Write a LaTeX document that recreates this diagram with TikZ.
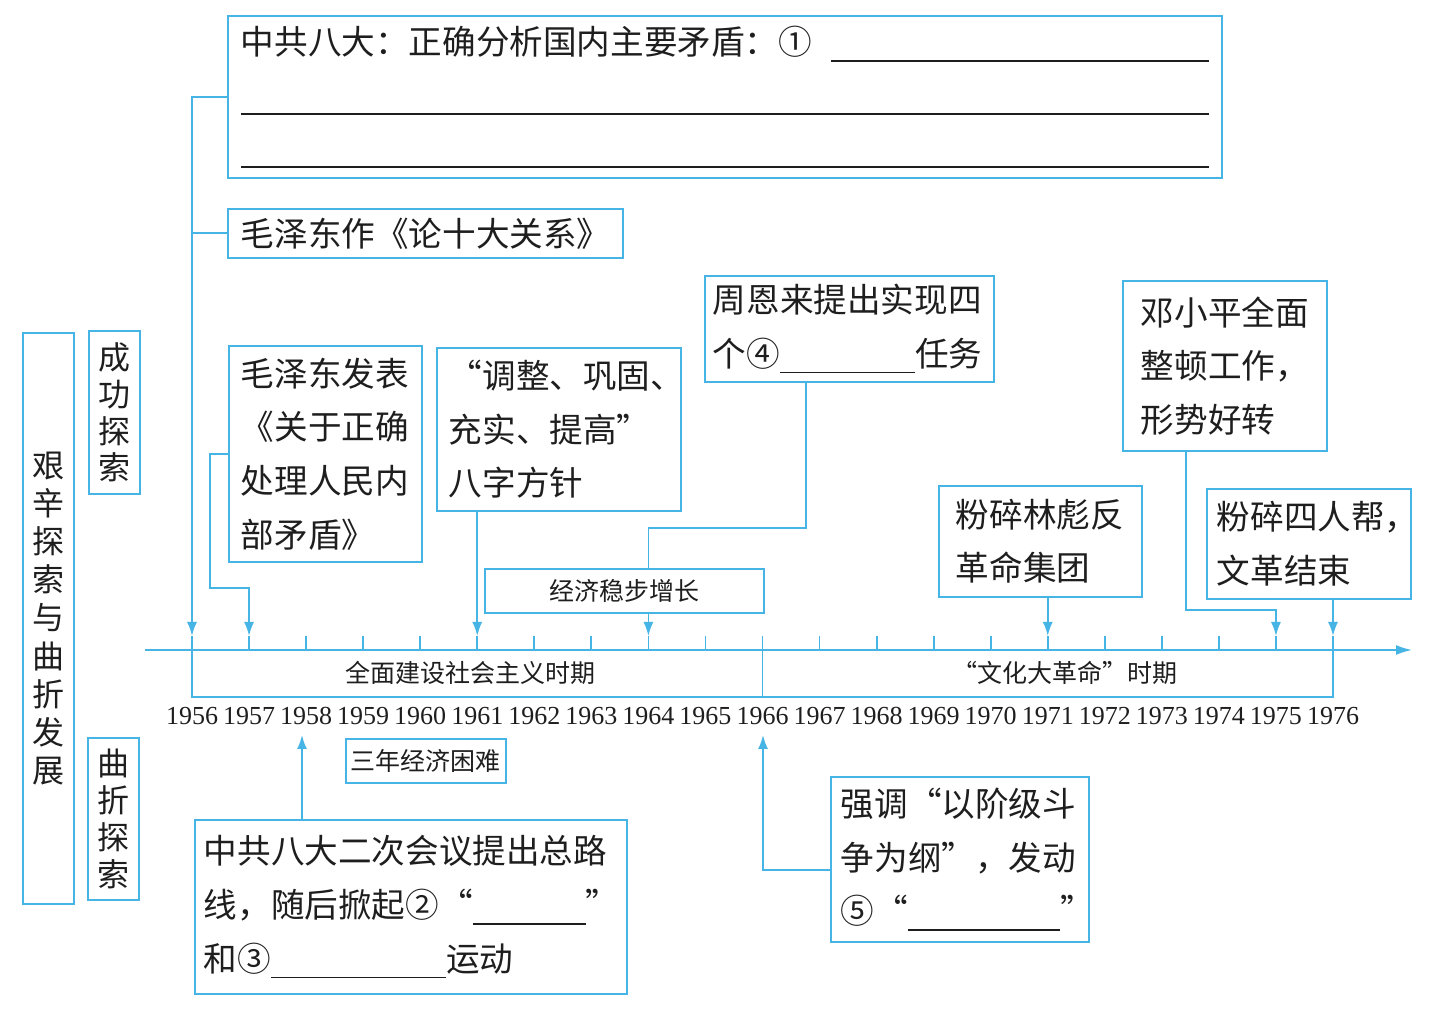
\documentclass[tikz,border=0pt]{standalone}
\usepackage{fontspec}
\setmainfont{Liberation Serif}
\newfontfamily\cjk{Noto Sans CJK SC}
\usetikzlibrary{arrows.meta,calc}
\definecolor{cl}{RGB}{70,180,228}
\definecolor{tx}{RGB}{30,30,30}
\tikzset{
  conn/.style={draw=cl, line width=0.9pt},
  arr/.style={conn, -{Latex[length=7pt,width=5pt]}},
  bx/.style={draw=cl, line width=0.9pt, anchor=north west, align=left, inner xsep=0pt, inner ysep=0pt, text=tx, font=\cjk\fontsize{16.8}{26.8}\selectfont},
  vbx/.style={draw=cl, line width=0.9pt, anchor=north west, align=center, inner sep=0pt, text=tx, font=\cjk\fontsize{16}{18.4}\selectfont},
  sbx/.style={draw=cl, line width=0.9pt, anchor=north west, align=center, inner sep=0pt, text=tx, font=\cjk\fontsize{12.5}{15}\selectfont},
  yrlab/.style={text=tx, font=\fontsize{13}{15}\selectfont, inner sep=0pt},
  per/.style={text=tx, font=\cjk\fontsize{12.5}{15}\selectfont, inner sep=0pt},
}
\newcommand{\blank}[1]{\rule[-3.5pt]{#1}{0.8pt}}
\begin{document}
\begin{tikzpicture}[x=0.5pt,y=-0.5pt]
\useasboundingbox (0,0) rectangle (1442,1010);

% left labels
\node[vbx, font=\cjk\fontsize{16}{19.1}\selectfont, minimum width=25.5pt, minimum height=285.5pt, text width=20pt] (L0) at (22,332) {艰\\辛\\探\\索\\与\\曲\\折\\发\\展};
\node[vbx, minimum width=25.5pt, minimum height=81.5pt, text width=20pt] (L1) at (88,330) {成\\功\\探\\索};
\node[vbx, minimum width=25.5pt, minimum height=81pt, text width=20pt] (L2) at (87,737) {曲\\折\\探\\索};

% boxes
\node[bx, font=\cjk\fontsize{16.8}{26.5}\selectfont, minimum width=497pt, minimum height=81pt, text width=484pt] (b1) at (227,15)
  {中共八大：正确分析国内主要矛盾：①\hfill\blank{189pt}\\\blank{484pt}\\\blank{484pt}};
\node[bx, minimum width=197.5pt, minimum height=24.5pt, text width=184.5pt] (b2) at (227,208) {毛泽东作《论十大关系》};
\node[bx, minimum width=96.5pt, minimum height=108pt, text width=84.5pt] (b6) at (228,345) {毛泽东发表\\《关于正确\\处理人民内\\部矛盾》};
\node[bx, minimum width=122pt, minimum height=81.5pt, text width=110pt] (b7) at (436,347) {“调整、巩固、\\充实、提高”\\八字方针};
\node[bx, minimum width=144.5pt, minimum height=53pt, text width=136.5pt] (b8) at (704,275) {周恩来提出实现四\\个④\blank{67.5pt}任务};
\node[sbx, minimum width=139.5pt, minimum height=22pt] (b9) at (484,568) {经济稳步增长};
\node[bx, minimum width=102pt, minimum height=85pt, text width=84pt] (b10) at (1122,280) {邓小平全面\\整顿工作，\\形势好转};
\node[bx, minimum width=101.5pt, minimum height=55.5pt, text width=84.5pt] (b11) at (938,485) {粉碎林彪反\\革命集团};
\node[bx, minimum width=102pt, minimum height=55pt, text width=92pt] (b12) at (1206,488) {粉碎四人帮，\\文革结束};
\node[sbx, minimum width=80pt, minimum height=22pt] (b14) at (345,738) {三年经济困难};
\node[bx, minimum width=216pt, minimum height=87pt, text width=207pt] (b15) at (194,819) {中共八大二次会议提出总路\\线，随后掀起②“\blank{56.5pt}”\\和③\blank{87.5pt}运动};
\node[bx, minimum width=129pt, minimum height=82.5pt, text width=119pt] (b16) at (830,776) {强调“以阶级斗\\争为纲”，发动\\⑤“\blank{76pt}”};

% timeline
\coordinate (axL) at (145,650);
\coordinate (axR) at (1412,650);
\draw[conn, -{Latex[length=8pt,width=5pt]}] (axL) -- (axR);
\foreach \i in {0,...,20}{
  \pgfmathtruncatemacro\yr{1956+\i}
  \coordinate (t\yr) at ({192+57.05*\i},650);
  \coordinate (a\yr) at ({192+57.05*\i},636);
  \draw[conn] (t\yr) -- (a\yr);
  \node[yrlab] (y\yr) at ({192+57.05*\i},716) {\yr};
}
\coordinate (brk) at (0,697);
\draw[conn] (t1956) -- (t1956 |- brk) -- (t1976 |- brk) -- (t1976);
\draw[conn] (t1966) -- (t1966 |- brk);
\node[per] (p1) at (470,673) {全面建设社会主义时期};
\node[per] (p2) at (1065,673) {“文化大革命”时期};

% connectors
\coordinate (k6) at (210,588);
\coordinate (k8) at (806,528);
\coordinate (k10) at (1186,610);
\coordinate (k16) at (763,870);
\coordinate (u1958) at (302,735);
\coordinate (u1966) at (763,735);

\draw[arr] (b1.west) -| (a1956);
\draw[conn] (b2.west) -- (b2.west -| a1956);
\draw[arr] (b6.west) -| (k6) -| (a1957);
\draw[arr] (b7.south -| a1961) -- (a1961);
\draw[conn] (k8 |- b8.south) -- (k8) -| (b9.north -| a1964);
\draw[arr] (b9.south -| a1964) -- (a1964);
\draw[arr] (b11.south -| a1971) -- (a1971);
\draw[arr] (k10 |- b10.south) -- (k10) -| (a1975);
\draw[arr] (b12.south -| a1976) -- (a1976);
\draw[arr] (b15.north -| u1958) -- (u1958);
\draw[arr] (b16.west |- k16) -- (k16) -- (u1966);
\end{tikzpicture}
\end{document}
